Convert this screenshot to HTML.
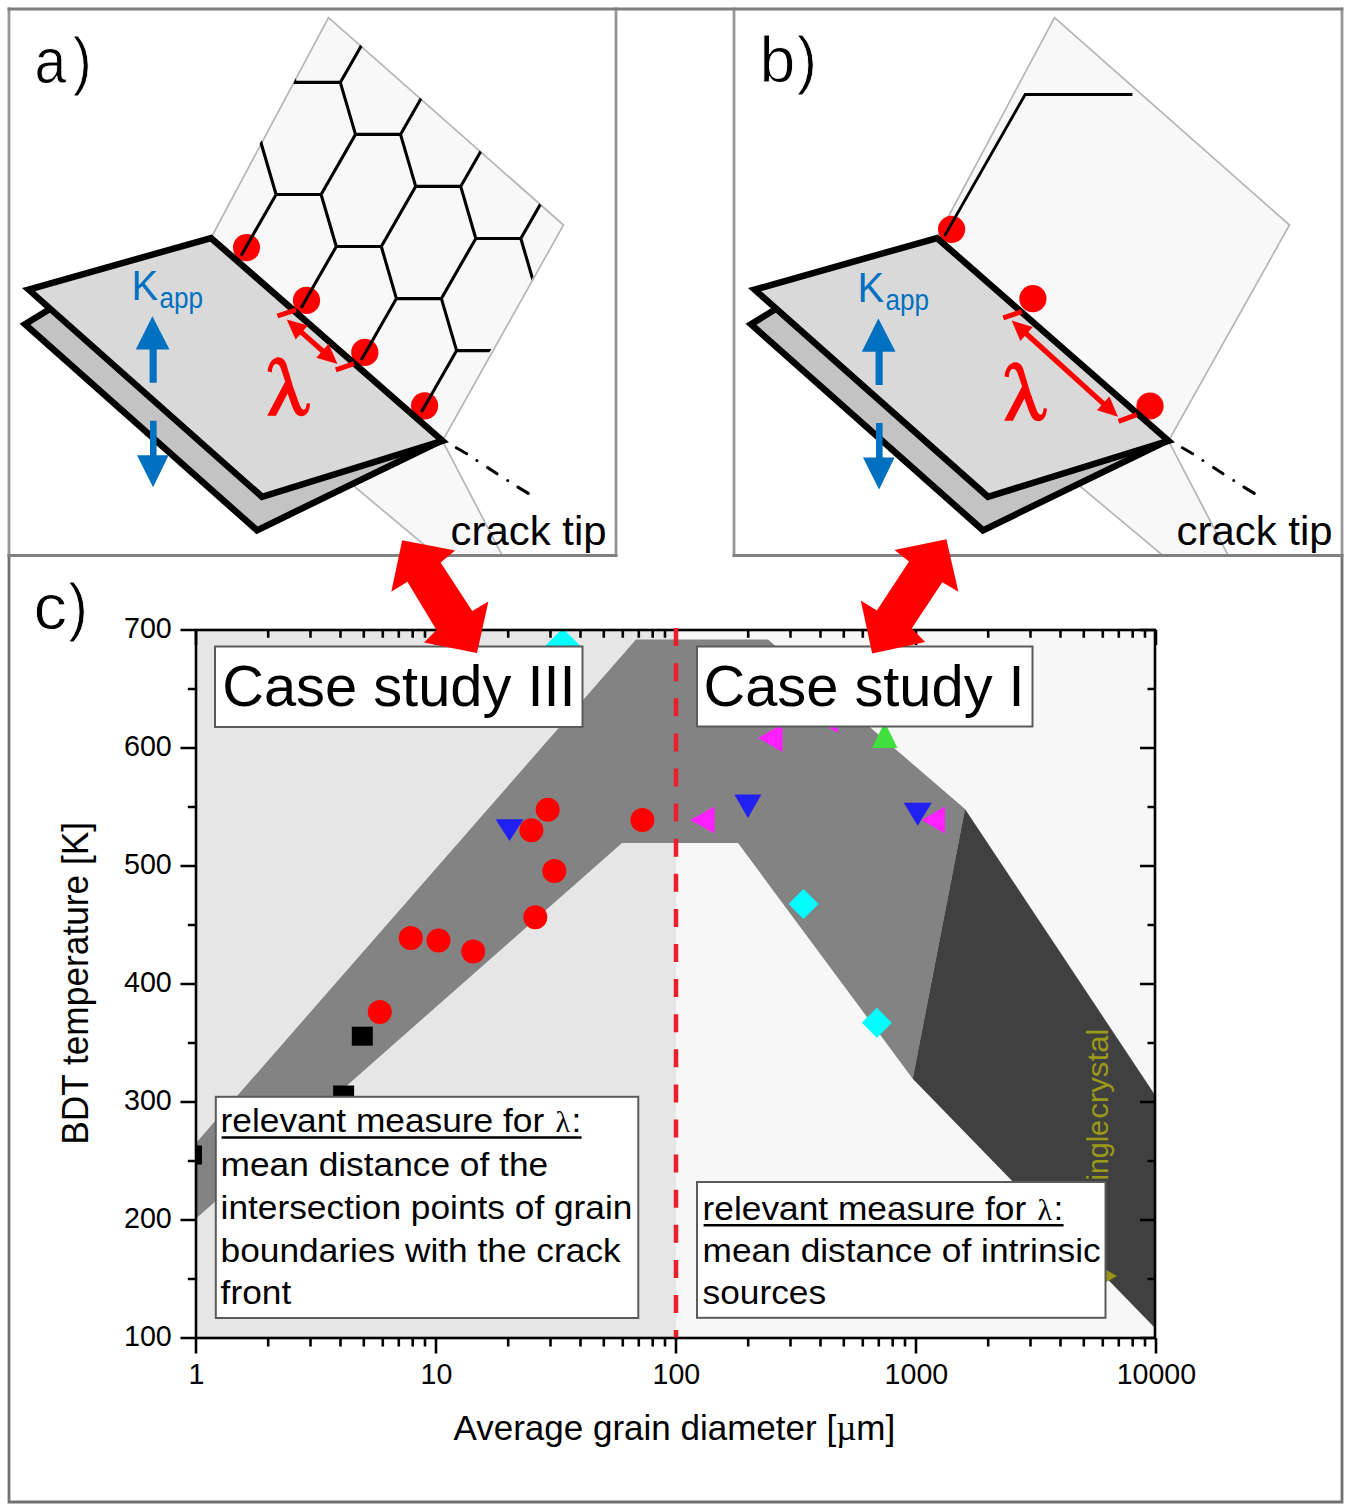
<!DOCTYPE html>
<html><head><meta charset="utf-8"><title>figure</title><style>html,body{margin:0;padding:0;background:#fff;}svg{display:block;}</style></head><body>
<svg width="1348" height="1506" viewBox="0 0 1348 1506">
<rect width="1348" height="1506" fill="#fff"/>
<clipPath id="clipA"><rect x="10" y="10" width="605" height="545"/></clipPath>
<clipPath id="clipB"><rect x="735" y="10" width="606" height="545"/></clipPath>
<g clip-path="url(#clipA)"><g transform="translate(0,0)">
<polygon points="211.0,238.0 328.5,17.5 563.5,225.0 442.5,440.8" fill="#f8f8f8" stroke="#b6b6b6" stroke-width="1.7"/>
<polygon points="442.5,440.8 503.0,556.0 437.0,556.0 300.0,441.0" fill="#f8f8f8"/>
<line x1="442.5" y1="440.8" x2="502.5" y2="556" stroke="#b6b6b6" stroke-width="1.7"/>
<line x1="300" y1="441" x2="437.5" y2="556" stroke="#b6b6b6" stroke-width="1.7"/>
<clipPath id="clipP0"><polygon points="212.0,230.0 329.5,17.5 563.5,225.0 442.5,432.8"/></clipPath>
<circle cx="246.5" cy="247.6" r="13.6" fill="#ff0000"/>
<circle cx="306.5" cy="300.4" r="13.6" fill="#ff0000"/>
<circle cx="364.8" cy="352.4" r="13.6" fill="#ff0000"/>
<circle cx="424.6" cy="405.8" r="13.6" fill="#ff0000"/>
<path d="M254.4,-81.8L299.4,-81.8 M299.4,-81.8L314.6,-29.8 M314.6,-29.8L280.2,30.3 M280.2,30.3L235.2,30.3 M235.2,30.3L220.0,-21.7 M220.0,-21.7L254.4,-81.8 M175.0,-21.7L220.0,-21.7 M235.2,30.3L200.8,90.4 M200.8,90.4L155.8,90.4 M155.8,90.4L140.6,38.4 M140.6,38.4L175.0,-21.7 M394.0,-89.9L439.0,-89.9 M439.0,-89.9L454.1,-37.8 M454.1,-37.8L419.7,22.3 M419.7,22.3L374.7,22.3 M374.7,22.3L359.6,-29.8 M359.6,-29.8L394.0,-89.9 M314.6,-29.8L359.6,-29.8 M374.7,22.3L340.3,82.4 M340.3,82.4L295.3,82.4 M295.3,82.4L280.2,30.3 M260.9,142.5L215.9,142.5 M215.9,142.5L200.8,90.4 M215.9,142.5L181.5,202.6 M121.4,150.5L155.8,90.4 M533.5,-97.9L578.5,-97.9 M578.5,-97.9L593.7,-45.9 M593.7,-45.9L559.3,14.2 M559.3,14.2L514.3,14.2 M514.3,14.2L499.1,-37.8 M499.1,-37.8L533.5,-97.9 M454.1,-37.8L499.1,-37.8 M514.3,14.2L479.9,74.3 M479.9,74.3L434.9,74.3 M434.9,74.3L419.7,22.3 M434.9,74.3L400.5,134.4 M400.5,134.4L355.5,134.4 M355.5,134.4L340.3,82.4 M355.5,134.4L321.1,194.5 M321.1,194.5L276.1,194.5 M276.1,194.5L260.9,142.5 M276.1,194.5L241.7,254.6 M593.7,-45.9L638.7,-45.9 M638.7,-45.9L653.9,6.1 M653.9,6.1L619.5,66.2 M619.5,66.2L574.5,66.2 M574.5,66.2L559.3,14.2 M574.5,66.2L540.1,126.3 M540.1,126.3L495.1,126.3 M495.1,126.3L479.9,74.3 M495.1,126.3L460.7,186.4 M460.7,186.4L415.7,186.4 M415.7,186.4L400.5,134.4 M415.7,186.4L381.3,246.5 M381.3,246.5L336.3,246.5 M336.3,246.5L321.1,194.5 M336.3,246.5L301.9,306.6 M619.5,66.2L634.6,118.3 M634.6,118.3L600.2,178.4 M600.2,178.4L555.2,178.4 M555.2,178.4L540.1,126.3 M555.2,178.4L520.8,238.5 M520.8,238.5L475.8,238.5 M475.8,238.5L460.7,186.4 M475.8,238.5L441.4,298.6 M441.4,298.6L396.4,298.6 M396.4,298.6L381.3,246.5 M396.4,298.6L362.0,358.7 M600.2,178.4L615.4,230.4 M615.4,230.4L581.0,290.5 M581.0,290.5L536.0,290.5 M536.0,290.5L520.8,238.5 M536.0,290.5L501.6,350.6 M501.6,350.6L456.6,350.6 M456.6,350.6L441.4,298.6 M456.6,350.6L422.2,410.7 M615.4,230.4L660.4,230.4 M660.4,230.4L675.6,282.4 M675.6,282.4L641.2,342.5 M641.2,342.5L596.2,342.5 M596.2,342.5L581.0,290.5 M596.2,342.5L561.8,402.6 M561.8,402.6L516.8,402.6 M516.8,402.6L501.6,350.6 M516.8,402.6L482.4,462.7 M482.4,462.7L437.4,462.7 M641.2,342.5L656.4,394.5 M656.4,394.5L622.0,454.6 M622.0,454.6L577.0,454.6 M577.0,454.6L561.8,402.6 M577.0,454.6L542.6,514.8 M542.6,514.8L497.6,514.8 M497.6,514.8L482.4,462.7" fill="none" stroke="#000" stroke-width="3.1" stroke-linecap="square" clip-path="url(#clipP0)"/>
<polygon points="25.0,324.3 85.6,287.1 439.0,441.8 257.0,530.3" fill="#c3c3c3" stroke="#000" stroke-width="6.5" stroke-linejoin="miter" stroke-miterlimit="6"/>
<polygon points="28.6,289.6 211.0,238.0 442.5,440.8 262.0,496.8" fill="#d9d9d9" stroke="#000" stroke-width="6.5" stroke-linejoin="miter" stroke-miterlimit="6"/>
<line x1="456.3" y1="447.8" x2="466.71" y2="453.7" stroke="#000" stroke-width="3" stroke-linecap="round"/>
<line x1="476.9" y1="460.6" x2="476.90999999999997" y2="460.6" stroke="#000" stroke-width="3" stroke-linecap="round"/>
<line x1="487.5" y1="467.5" x2="497.11" y2="473.8" stroke="#000" stroke-width="3" stroke-linecap="round"/>
<line x1="507.7" y1="480.4" x2="507.71" y2="480.4" stroke="#000" stroke-width="3" stroke-linecap="round"/>
<line x1="517.9" y1="487.1" x2="528.31" y2="493.4" stroke="#000" stroke-width="3" stroke-linecap="round"/>
<g transform="translate(0,0)">
<polygon points="152.4,316.3 169.5,349.6 156.7,349.6 156.7,382.8 149.6,382.8 149.6,349.6 135.8,349.6" fill="#0070c0"/>
<polygon points="150.0,420.8 156.6,420.8 156.6,455.2 168.6,455.2 153.1,487.2 137.0,455.2 150.0,455.2" fill="#0070c0"/>
<text transform="translate(131.4,299.5) scale(0.960,1.000)" font-family="Liberation Sans" font-size="41.6" fill="#0070c0" text-anchor="start" >K</text>
<text transform="translate(159.6,307.6) scale(0.880,1.000)" font-family="Liberation Sans" font-size="29.6" fill="#0070c0" text-anchor="start" >app</text>
</g>
<path transform="translate(0,0)" d="M267.6,371.5 C268.2,365 271,359.5 276.5,357.6 C280.5,356.6 284.2,358.5 286.2,363.5 L293.2,387 L299.3,404 C300.8,408.3 302.4,410 304.2,409.6 C305.7,409.1 306.4,406.5 306.8,403.2 L310,403.6 C309.8,410.5 307.2,416 301.8,416.3 C297.2,416.5 294.2,412.5 291.6,405 L287.6,393.5 L276,415.8 L267.2,415.8 L285.2,381.5 L280.6,368 C279.4,364.8 277.8,363.6 275.8,364 C273.2,364.6 272.1,368 271.9,372.2 Z" fill="#ff0000"/>
<line x1="277.4" y1="316.0" x2="296.0" y2="309.8" stroke="#ff0000" stroke-width="5"/>
<line x1="335.8" y1="369.8" x2="354.0" y2="363.6" stroke="#ff0000" stroke-width="5"/>
<polygon points="286.7,319.4 295.6,339.6 307.9,325.6" fill="#ff0000"/><polygon points="337.5,364.0 316.3,357.8 328.6,343.8" fill="#ff0000"/>
<line x1="300.7" y1="331.6" x2="323.5" y2="351.8" stroke="#ff0000" stroke-width="5.2"/>
<text transform="translate(450.5,544.5) scale(1.035,1.000)" font-family="Liberation Sans" font-size="40.5" fill="#000" text-anchor="start" >crack tip</text>
</g></g>
<g clip-path="url(#clipB)"><g transform="translate(726,0)">
<polygon points="211.0,238.0 328.5,17.5 563.5,225.0 442.5,440.8" fill="#f8f8f8" stroke="#b6b6b6" stroke-width="1.7"/>
<polygon points="442.5,440.8 503.0,556.0 437.0,556.0 300.0,441.0" fill="#f8f8f8"/>
<line x1="442.5" y1="440.8" x2="502.5" y2="556" stroke="#b6b6b6" stroke-width="1.7"/>
<line x1="300" y1="441" x2="437.5" y2="556" stroke="#b6b6b6" stroke-width="1.7"/>
<clipPath id="clipP726"><polygon points="212.0,230.0 329.5,17.5 563.5,225.0 442.5,432.8"/></clipPath>
<circle cx="225.6" cy="229.3" r="13.6" fill="#ff0000"/>
<circle cx="306.9" cy="298.7" r="13.6" fill="#ff0000"/>
<circle cx="424.0" cy="406.0" r="13.6" fill="#ff0000"/>
<polyline points="214.0,244.0 299.2,94.5 406.4,94.5" fill="none" stroke="#000" stroke-width="2.8" clip-path="url(#clipP726)"/>
<polygon points="25.0,324.3 85.6,287.1 439.0,441.8 257.0,530.3" fill="#c3c3c3" stroke="#000" stroke-width="6.5" stroke-linejoin="miter" stroke-miterlimit="6"/>
<polygon points="28.6,289.6 211.0,238.0 442.5,440.8 262.0,496.8" fill="#d9d9d9" stroke="#000" stroke-width="6.5" stroke-linejoin="miter" stroke-miterlimit="6"/>
<line x1="456.3" y1="447.8" x2="466.71" y2="453.7" stroke="#000" stroke-width="3" stroke-linecap="round"/>
<line x1="476.9" y1="460.6" x2="476.90999999999997" y2="460.6" stroke="#000" stroke-width="3" stroke-linecap="round"/>
<line x1="487.5" y1="467.5" x2="497.11" y2="473.8" stroke="#000" stroke-width="3" stroke-linecap="round"/>
<line x1="507.7" y1="480.4" x2="507.71" y2="480.4" stroke="#000" stroke-width="3" stroke-linecap="round"/>
<line x1="517.9" y1="487.1" x2="528.31" y2="493.4" stroke="#000" stroke-width="3" stroke-linecap="round"/>
<g transform="translate(0,2.2)">
<polygon points="152.4,316.3 169.5,349.6 156.7,349.6 156.7,382.8 149.6,382.8 149.6,349.6 135.8,349.6" fill="#0070c0"/>
<polygon points="150.0,420.8 156.6,420.8 156.6,455.2 168.6,455.2 153.1,487.2 137.0,455.2 150.0,455.2" fill="#0070c0"/>
<text transform="translate(131.4,299.5) scale(0.960,1.000)" font-family="Liberation Sans" font-size="41.6" fill="#0070c0" text-anchor="start" >K</text>
<text transform="translate(159.6,307.6) scale(0.880,1.000)" font-family="Liberation Sans" font-size="29.6" fill="#0070c0" text-anchor="start" >app</text>
</g>
<path transform="translate(10.9,5)" d="M267.6,371.5 C268.2,365 271,359.5 276.5,357.6 C280.5,356.6 284.2,358.5 286.2,363.5 L293.2,387 L299.3,404 C300.8,408.3 302.4,410 304.2,409.6 C305.7,409.1 306.4,406.5 306.8,403.2 L310,403.6 C309.8,410.5 307.2,416 301.8,416.3 C297.2,416.5 294.2,412.5 291.6,405 L287.6,393.5 L276,415.8 L267.2,415.8 L285.2,381.5 L280.6,368 C279.4,364.8 277.8,363.6 275.8,364 C273.2,364.6 272.1,368 271.9,372.2 Z" fill="#ff0000"/>
<line x1="277.3" y1="317.8" x2="296.0" y2="311.5" stroke="#ff0000" stroke-width="5"/>
<line x1="392.5" y1="421.3" x2="410.8" y2="414.6" stroke="#ff0000" stroke-width="5"/>
<polygon points="285.7,320.6 294.3,340.9 306.8,327.1" fill="#ff0000"/><polygon points="392.0,416.8 370.9,410.3 383.4,396.5" fill="#ff0000"/>
<line x1="299.5" y1="333.0" x2="378.2" y2="404.4" stroke="#ff0000" stroke-width="5.2"/>
<text transform="translate(450.5,544.5) scale(1.035,1.000)" font-family="Liberation Sans" font-size="40.5" fill="#000" text-anchor="start" >crack tip</text>
</g></g>
<text transform="translate(34.5,82.8) scale(0.885,1.000)" font-family="Liberation Sans" font-size="64.5" fill="#000" text-anchor="start" stroke="#fff" stroke-width="0.9">a</text>
<text transform="translate(73.0,82.8) scale(0.870,1.000)" font-family="Liberation Sans" font-size="64.5" fill="#000" text-anchor="start" stroke="#fff" stroke-width="0.9">)</text>
<text transform="translate(759.4,82.2)" font-family="Liberation Sans" font-size="64.5" fill="#000" text-anchor="start" stroke="#fff" stroke-width="0.9">b</text>
<text transform="translate(797.0,82.2) scale(0.930,1.000)" font-family="Liberation Sans" font-size="64.5" fill="#000" text-anchor="start" stroke="#fff" stroke-width="0.9">)</text>
<clipPath id="plotclip"><rect x="196" y="630" width="959" height="708"/></clipPath>
<g clip-path="url(#plotclip)">
<rect x="196" y="630" width="480" height="708" fill="#e6e6e6"/>
<rect x="676" y="630" width="479" height="708" fill="#f7f7f7"/>
<polygon points="196.0,1143.0 636.0,639.5 768.0,639.5 965.0,809.0 912.7,1078.7 738.0,843.0 622.0,843.0 196.0,1218.5" fill="#838383"/>
<polygon points="965.0,809.0 1155.0,1095.0 1155.0,1328.0 912.7,1078.7" fill="#404040"/>
<text transform="translate(1107.6,1028.5) rotate(-90) scale(1.060,1.000)" font-family="Liberation Sans" font-size="29.5" fill="#9a9a18" text-anchor="end" >crystal</text>
<text transform="translate(1107.6,1120.0) rotate(-90) scale(0.970,1.000)" font-family="Liberation Sans" font-size="29.5" fill="#9a9a18" text-anchor="end" >ingle</text>
<ellipse cx="379.8" cy="1012" rx="12" ry="12" fill="#ff0000"/>
<ellipse cx="410.8" cy="938" rx="12" ry="12" fill="#ff0000"/>
<ellipse cx="438.5" cy="940.5" rx="12" ry="12" fill="#ff0000"/>
<ellipse cx="473.2" cy="951.4" rx="12" ry="12" fill="#ff0000"/>
<ellipse cx="535.3" cy="917.2" rx="12" ry="12" fill="#ff0000"/>
<ellipse cx="554.3" cy="871" rx="12" ry="12" fill="#ff0000"/>
<ellipse cx="531.4" cy="830.2" rx="12" ry="12" fill="#ff0000"/>
<ellipse cx="547.7" cy="809.8" rx="12" ry="12" fill="#ff0000"/>
<ellipse cx="642.4" cy="819.9" rx="12" ry="12" fill="#ff0000"/>
<rect x="351.8" y="1026.7" width="21" height="19" fill="#000"/>
<rect x="333.1" y="1085.5" width="21" height="19" fill="#000"/>
<rect x="181.0" y="1145.5" width="21" height="19" fill="#000"/>
<polygon points="495.5,819.3 523.5,819.3 509.5,841.1" fill="#2020f0"/>
<polygon points="734.4,794.6 761.4,794.6 747.9,818.0" fill="#2020f0"/>
<polygon points="903.7,802.8 931.7,802.8 917.7,825.7" fill="#2020f0"/>
<polygon points="757.9,738.0 782.4,724.0 782.4,752.0" fill="#ff20ff"/>
<polygon points="813.5,719.0 838.0,705.0 838.0,733.0" fill="#ff20ff"/>
<polygon points="690.0,820.0 714.5,806.5 714.5,833.5" fill="#ff20ff"/>
<polygon points="921.5,820.0 944.9,806.5 944.9,833.5" fill="#ff20ff"/>
<polygon points="884.7,722.0 897.5,748.0 872.0,748.0" fill="#40e040"/>
<polygon points="562.7,628.5 581.5,647.0 544.0,647.0" fill="#00ffff"/>
<polygon points="803.5,888.9 818.5,903.9 803.5,918.9 788.5,903.9" fill="#00ffff"/>
<polygon points="876.8,1007.7 891.8,1022.7 876.8,1037.7 861.8,1022.7" fill="#00ffff"/>
<polygon points="1117.0,1276.0 1094.0,1263.0 1094.0,1289.0" fill="#95951a"/>
</g>
<rect x="215" y="646.5" width="367.5" height="80.5" fill="#fff" stroke="#5a5a5a" stroke-width="2"/>
<rect x="697" y="646.5" width="335.5" height="80.0" fill="#fff" stroke="#5a5a5a" stroke-width="2"/>
<rect x="215.8" y="1096.8" width="422.49999999999994" height="221.20000000000005" fill="#fff" stroke="#5a5a5a" stroke-width="2"/>
<rect x="697" y="1182" width="408.5" height="135.79999999999995" fill="#fff" stroke="#5a5a5a" stroke-width="2"/>
<text transform="translate(222.2,706.0)" font-family="Liberation Sans" font-size="57.8" fill="#000" text-anchor="start" >Case study III</text>
<text transform="translate(703.4,706.0)" font-family="Liberation Sans" font-size="57.8" fill="#000" text-anchor="start" >Case study I</text>
<text transform="translate(220.6,1175.5) scale(1.038,1.000)" font-family="Liberation Sans" font-size="34" fill="#000" text-anchor="start" >mean distance of the</text>
<text transform="translate(220.6,1218.8) scale(1.038,1.000)" font-family="Liberation Sans" font-size="34" fill="#000" text-anchor="start" >intersection points of grain</text>
<text transform="translate(220.6,1261.5) scale(1.038,1.000)" font-family="Liberation Sans" font-size="34" fill="#000" text-anchor="start" >boundaries with the crack</text>
<text transform="translate(220.6,1304.3) scale(1.038,1.000)" font-family="Liberation Sans" font-size="34" fill="#000" text-anchor="start" >front</text>
<text transform="translate(702.6,1262.2) scale(1.038,1.000)" font-family="Liberation Sans" font-size="34" fill="#000" text-anchor="start" >mean distance of intrinsic</text>
<text transform="translate(702.6,1304.2) scale(1.038,1.000)" font-family="Liberation Sans" font-size="34" fill="#000" text-anchor="start" >sources</text>
<text transform="translate(220.6,1132.3) scale(1.038,1.000)" font-family="Liberation Sans" font-size="34" fill="#000" text-anchor="start" >relevant measure for </text>
<text transform="translate(555.6,1132.3)" font-family="Liberation Serif" font-size="30" fill="#000" text-anchor="start" >λ</text>
<text transform="translate(571.6,1132.3) scale(1.038,1.000)" font-family="Liberation Sans" font-size="34" fill="#000" text-anchor="start" >:</text>
<line x1="221.6" y1="1137.5" x2="581.6" y2="1137.5" stroke="#000" stroke-width="2.4"/>
<text transform="translate(702.6,1220.0) scale(1.038,1.000)" font-family="Liberation Sans" font-size="34" fill="#000" text-anchor="start" >relevant measure for </text>
<text transform="translate(1037.6,1220.0)" font-family="Liberation Serif" font-size="30" fill="#000" text-anchor="start" >λ</text>
<text transform="translate(1053.6,1220.0) scale(1.038,1.000)" font-family="Liberation Sans" font-size="34" fill="#000" text-anchor="start" >:</text>
<line x1="703.6" y1="1225.2" x2="1063.6" y2="1225.2" stroke="#000" stroke-width="2.4"/>
<g stroke="#000" stroke-width="2.6" fill="none">
<rect x="196.0" y="630.0" width="959.0" height="708.0"/>
<path d="M180.5,1338.0H196.0 M1155.0,1338.0H1140.0 M187.8,1279.0H196.0 M1155.0,1279.0H1147.5 M180.5,1220.0H196.0 M1155.0,1220.0H1140.0 M187.8,1161.0H196.0 M1155.0,1161.0H1147.5 M180.5,1102.0H196.0 M1155.0,1102.0H1140.0 M187.8,1043.0H196.0 M1155.0,1043.0H1147.5 M180.5,984.0H196.0 M1155.0,984.0H1140.0 M187.8,925.0H196.0 M1155.0,925.0H1147.5 M180.5,866.0H196.0 M1155.0,866.0H1140.0 M187.8,807.0H196.0 M1155.0,807.0H1147.5 M180.5,748.0H196.0 M1155.0,748.0H1140.0 M187.8,689.0H196.0 M1155.0,689.0H1147.5 M180.5,630.0H196.0 M1155.0,630.0H1140.0 M196.0,1338.0V1353.5 M196.0,630.0V645.0 M268.2,1338.0V1346.5 M268.2,630.0V637.8 M310.5,1338.0V1346.5 M310.5,630.0V637.8 M340.5,1338.0V1346.5 M340.5,630.0V637.8 M363.8,1338.0V1346.5 M363.8,630.0V637.8 M382.8,1338.0V1346.5 M382.8,630.0V637.8 M398.8,1338.0V1346.5 M398.8,630.0V637.8 M412.7,1338.0V1346.5 M412.7,630.0V637.8 M425.0,1338.0V1346.5 M425.0,630.0V637.8 M436.0,1338.0V1353.5 M436.0,630.0V645.0 M508.2,1338.0V1346.5 M508.2,630.0V637.8 M550.5,1338.0V1346.5 M550.5,630.0V637.8 M580.5,1338.0V1346.5 M580.5,630.0V637.8 M603.8,1338.0V1346.5 M603.8,630.0V637.8 M622.8,1338.0V1346.5 M622.8,630.0V637.8 M638.8,1338.0V1346.5 M638.8,630.0V637.8 M652.7,1338.0V1346.5 M652.7,630.0V637.8 M665.0,1338.0V1346.5 M665.0,630.0V637.8 M676.0,1338.0V1353.5 M676.0,630.0V645.0 M748.2,1338.0V1346.5 M748.2,630.0V637.8 M790.5,1338.0V1346.5 M790.5,630.0V637.8 M820.5,1338.0V1346.5 M820.5,630.0V637.8 M843.8,1338.0V1346.5 M843.8,630.0V637.8 M862.8,1338.0V1346.5 M862.8,630.0V637.8 M878.8,1338.0V1346.5 M878.8,630.0V637.8 M892.7,1338.0V1346.5 M892.7,630.0V637.8 M905.0,1338.0V1346.5 M905.0,630.0V637.8 M916.0,1338.0V1353.5 M916.0,630.0V645.0 M988.2,1338.0V1346.5 M988.2,630.0V637.8 M1030.5,1338.0V1346.5 M1030.5,630.0V637.8 M1060.5,1338.0V1346.5 M1060.5,630.0V637.8 M1083.8,1338.0V1346.5 M1083.8,630.0V637.8 M1102.8,1338.0V1346.5 M1102.8,630.0V637.8 M1118.8,1338.0V1346.5 M1118.8,630.0V637.8 M1132.7,1338.0V1346.5 M1132.7,630.0V637.8 M1145.0,1338.0V1346.5 M1145.0,630.0V637.8 M1156.0,1338.0V1353.5 M1156.0,630.0V645.0"/>
</g>
<clipPath id="dashclip"><rect x="660" y="627" width="40" height="710.5"/></clipPath>
<line x1="676" y1="628.1" x2="676" y2="1345" stroke="#e8202a" stroke-width="4.5" stroke-dasharray="18 17.1" clip-path="url(#dashclip)"/>
<text transform="translate(171.8,1346.4)" font-family="Liberation Sans" font-size="28.7" fill="#000" text-anchor="end" >100</text>
<text transform="translate(171.8,1228.4)" font-family="Liberation Sans" font-size="28.7" fill="#000" text-anchor="end" >200</text>
<text transform="translate(171.8,1110.4)" font-family="Liberation Sans" font-size="28.7" fill="#000" text-anchor="end" >300</text>
<text transform="translate(171.8,992.4)" font-family="Liberation Sans" font-size="28.7" fill="#000" text-anchor="end" >400</text>
<text transform="translate(171.8,874.4)" font-family="Liberation Sans" font-size="28.7" fill="#000" text-anchor="end" >500</text>
<text transform="translate(171.8,756.4)" font-family="Liberation Sans" font-size="28.7" fill="#000" text-anchor="end" >600</text>
<text transform="translate(171.8,638.4)" font-family="Liberation Sans" font-size="28.7" fill="#000" text-anchor="end" >700</text>
<text transform="translate(196.4,1384.4)" font-family="Liberation Sans" font-size="28.6" fill="#000" text-anchor="middle" >1</text>
<text transform="translate(436.4,1384.4)" font-family="Liberation Sans" font-size="28.6" fill="#000" text-anchor="middle" >10</text>
<text transform="translate(676.4,1384.4)" font-family="Liberation Sans" font-size="28.6" fill="#000" text-anchor="middle" >100</text>
<text transform="translate(916.4,1384.4)" font-family="Liberation Sans" font-size="28.6" fill="#000" text-anchor="middle" >1000</text>
<text transform="translate(1156.4,1384.4)" font-family="Liberation Sans" font-size="28.6" fill="#000" text-anchor="middle" >10000</text>
<text transform="translate(453.5,1440.0)" font-family="Liberation Sans" font-size="35" fill="#000" text-anchor="start" >Average grain diameter [<tspan font-family="Liberation Serif">µ</tspan>m]</text>
<text transform="translate(88.0,1144.8) rotate(-90) scale(1.000,1.060)" font-family="Liberation Sans" font-size="35.3" fill="#000" text-anchor="start" >BDT temperature [K]</text>
<text transform="translate(33.4,628.9) scale(1.040,1.000)" font-family="Liberation Sans" font-size="64.5" fill="#000" text-anchor="start" stroke="#fff" stroke-width="0.9">c</text>
<text transform="translate(68.6,628.9) scale(0.900,1.000)" font-family="Liberation Sans" font-size="64.5" fill="#000" text-anchor="start" stroke="#fff" stroke-width="0.9">)</text>
<g stroke-width="2.8" fill="none" stroke-linecap="square">
<path stroke="#717171" d="M9,555.5V1502H1342V555.5"/>
<path stroke="#979797" d="M9,9V555.5 M616,9V555.5 M734,9V555.5 M1342,9V555.5"/>
<path stroke="#808080" d="M9,555.5H616 M734,555.5H1342"/>
<path stroke="#7e7e7e" d="M9,9H1342"/>
</g>
<polygon points="402.2,540.3 455.2,550.6 440.6,562.6 472.3,610.9 488.4,601.5 477.0,652.9 424.0,642.5 436.5,630.1 407.4,581.8 391.3,591.7" fill="#ff0000"/>
<polygon points="946.4,539.2 958.4,591.7 942.3,582.3 911.7,628.5 925.2,642.0 872.2,653.5 860.8,600.5 876.9,610.4 909.0,561.5 894.5,550.1" fill="#ff0000"/>
</svg>
</body></html>
